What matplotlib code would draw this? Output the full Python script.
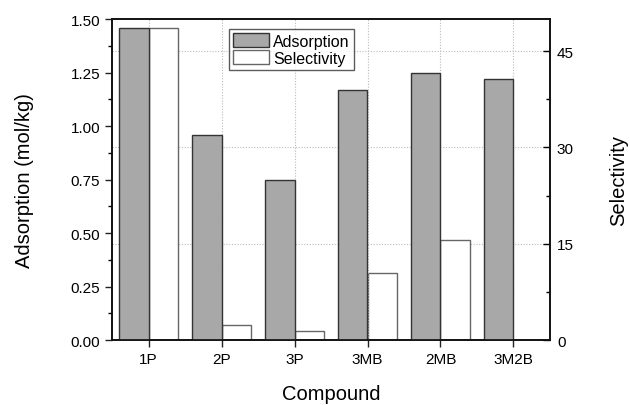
import matplotlib
matplotlib.use("Agg")
import matplotlib.pyplot as plt
import numpy as np
from matplotlib.ticker import MultipleLocator

plt.rcParams['font.family'] = ['Liberation Sans', 'DejaVu Sans']

compounds = ["1P", "2P", "3P", "3MB", "2MB", "3M2B"]
adsorption = [1.46, 0.96, 0.75, 1.17, 1.25, 1.22]
selectivity = [48.6, 2.4, 1.45, 10.4, 15.6, 0.0]

fig = plt.figure(figsize=(6.3, 4.06), dpi=100)
ax = fig.add_axes([0.1778, 0.160, 0.6952, 0.7907])
ax2 = ax.twinx()

x = np.arange(len(compounds))
w = 0.4

ax2.bar(x + w / 2, selectivity, width=w, color='white', edgecolor='#666666',
        linewidth=1.0, label='Selectivity', zorder=2)
ax.bar(x - w / 2, adsorption, width=w, color='#a8a8a8', edgecolor='#333333',
       linewidth=1.0, label='Adsorption', zorder=2)

ax.set_zorder(ax2.get_zorder() + 1)
ax.patch.set_visible(False)

ax.set_xlim(-0.5, 5.5)
ax.set_ylim(0, 1.5)
ax2.set_ylim(0, 50)

ax.set_xticks(x)
ax.set_xticklabels(compounds)
ax.yaxis.set_major_locator(MultipleLocator(0.25))
ax.yaxis.set_minor_locator(MultipleLocator(0.125))
ax.yaxis.set_major_formatter(matplotlib.ticker.FormatStrFormatter('%.2f'))
ax2.yaxis.set_major_locator(MultipleLocator(15))
ax2.yaxis.set_minor_locator(MultipleLocator(7.5))

ax.tick_params(axis='both', which='major', labelsize=11, length=5, width=1, direction='out', color='#222222')
ax.tick_params(axis='y', which='minor', length=3, width=1, direction='out')
ax2.tick_params(axis='y', which='major', labelsize=11, length=5, width=1, direction='in', pad=5)
ax2.tick_params(axis='y', which='minor', length=3, width=1, direction='in')

ax.xaxis.grid(True, linestyle=(0, (1, 1.5)), color='#bbbbbb', linewidth=0.8)
ax2.yaxis.grid(True, linestyle=(0, (1, 1.5)), color='#bbbbbb', linewidth=0.8)
ax.set_axisbelow(True)
ax2.set_axisbelow(True)

for a in (ax, ax2):
    for s in a.spines.values():
        s.set_linewidth(1.2)
        s.set_color('#111111')

ax.set_xlabel("Compound", fontsize=14.5, labelpad=13)
ax.set_ylabel("Adsorption (mol/kg)", fontsize=14.5, labelpad=26)
ax2.set_ylabel("Selectivity", fontsize=14.5, labelpad=25)

h1, l1 = ax.get_legend_handles_labels()
h2, l2 = ax2.get_legend_handles_labels()
leg = ax.legend(h1 + h2, l1 + l2, loc='upper left', bbox_to_anchor=(0.268, 0.968),
                fontsize=11.5, frameon=True, fancybox=False, edgecolor='#333333',
                handlelength=2.2, handleheight=0.95, borderpad=0.25,
                labelspacing=0.1, handletextpad=0.3, borderaxespad=0)
leg.get_frame().set_linewidth(1.0)

fig.savefig("out.png", dpi=100)
